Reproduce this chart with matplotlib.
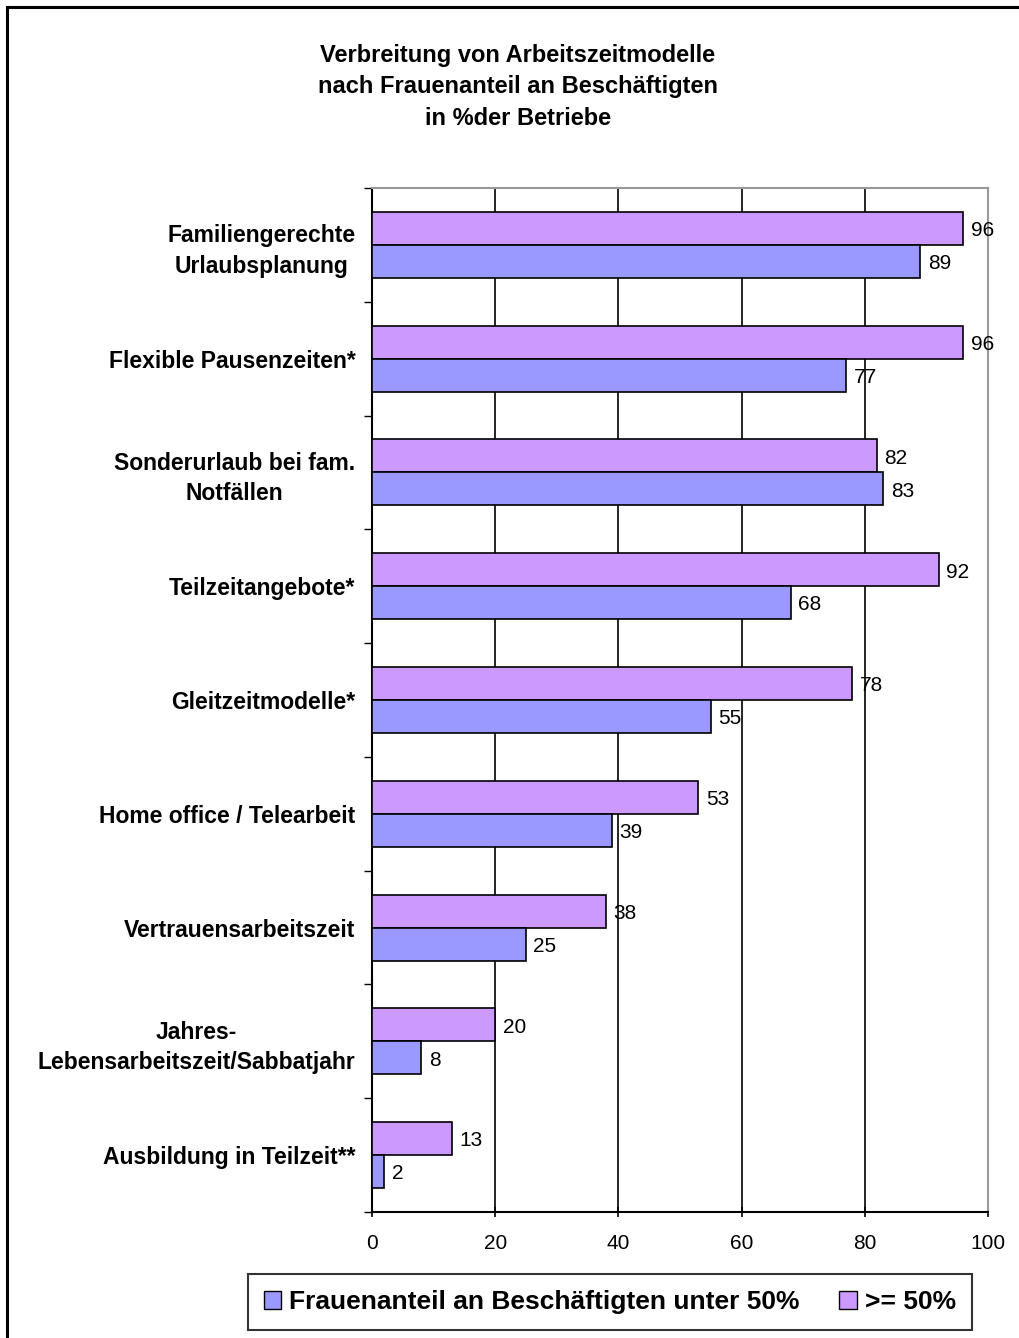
import matplotlib.pyplot as plt
from matplotlib.patches import Rectangle, Patch

plt.rcParams['font.family'] = ['Liberation Sans', 'DejaVu Sans']

# categories from top to bottom
categories = ['Familiengerechte\nUrlaubsplanung', 'Flexible Pausenzeiten*',
              'Sonderurlaub bei fam.\nNotfällen', 'Teilzeitangebote*',
              'Gleitzeitmodelle*', 'Home office / Telearbeit',
              'Vertrauensarbeitszeit', 'Jahres-\nLebensarbeitszeit/Sabbatjahr',
              'Ausbildung in Teilzeit**']
unter_50 = [89, 77, 83, 68, 55, 39, 25, 8, 2]
ueber_50 = [96, 96, 82, 92, 78, 53, 38, 20, 13]
series_names = ['Frauenanteil an Beschäftigten unter 50%', '>= 50%']
xticks = [0, 20, 40, 60, 80, 100]

c_blue = '#9999FF'
c_purple = '#CC99FF'

fig = plt.figure(figsize=(10.19, 13.38), dpi=100)
W, H = 1019, 1338
# axes box in pixels: left 372, right 988, top 188, bottom 1212
ax = fig.add_axes([372 / W, 1 - 1212 / H, (988 - 372) / W, (1212 - 188) / H])

n = len(categories)
bh = 0.29
ypos = [n - 1 - i + 0.5 for i in range(n)]
for i, y in enumerate(ypos):
    ax.barh(y + bh / 2, ueber_50[i], height=bh, color=c_purple, edgecolor='black', lw=1.2, zorder=3)
    ax.barh(y - bh / 2, unter_50[i], height=bh, color=c_blue, edgecolor='black', lw=1.2, zorder=3)
    ax.text(ueber_50[i] + 1.2, y + bh / 2 - 0.02, str(ueber_50[i]), va='center', ha='left', fontsize=15, zorder=4)
    ax.text(unter_50[i] + 1.2, y - bh / 2 - 0.02, str(unter_50[i]), va='center', ha='left', fontsize=15, zorder=4)

ax.set_xlim(0, 100)
ax.set_ylim(0, n)
ax.set_xticks(xticks)
ax.set_xticklabels([str(v) for v in xticks], fontsize=15)
ax.xaxis.grid(True, color='black', lw=1.2, zorder=1)
ax.tick_params(axis='x', length=7, width=1.2, direction='inout', pad=12)

# category boundaries as ticks, labels in between
ax.set_yticks(range(n + 1))
ax.set_yticklabels([])
ax.tick_params(axis='y', which='major', length=6, width=1, direction='out')
ax.set_yticks(ypos, minor=True)
ax.set_yticklabels(categories, minor=True, fontsize=16.5, fontweight='bold',
                   multialignment='center', linespacing=1.4)
ax.tick_params(axis='y', which='minor', length=0, pad=12)

for s in ['top', 'right']:
    ax.spines[s].set_color('#999999')
    ax.spines[s].set_linewidth(1.5)
for s in ['left', 'bottom']:
    ax.spines[s].set_color('black')
    ax.spines[s].set_linewidth(1.5)

fig.text(518 / W, 1 - 87 / H, 'Verbreitung von Arbeitszeitmodelle\nnach Frauenanteil an Beschäftigten\nin %der Betriebe',
         ha='center', va='center', fontsize=17, fontweight='bold', linespacing=1.45)

# outer chart frame
fig.patches.append(Rectangle((7 / W, -0.1), 1.2, 1 - 7 / H + 0.1, transform=fig.transFigure,
                             fill=False, edgecolor='black', lw=2.2))

handles = [Patch(facecolor=c_blue, edgecolor='black'), Patch(facecolor=c_purple, edgecolor='black')]
leg = fig.legend(handles, series_names, loc='center', bbox_to_anchor=(610 / W, 1 - 1302 / H),
                 ncol=2, frameon=True, fancybox=False, edgecolor='black',
                 prop={'weight': 'bold', 'size': 19}, handlelength=0.65, handleheight=0.65,
                 handletextpad=0.3, columnspacing=1.5, borderpad=0.6)
leg.get_frame().set_linewidth(1.5)

fig.savefig('out.png', dpi=100)
